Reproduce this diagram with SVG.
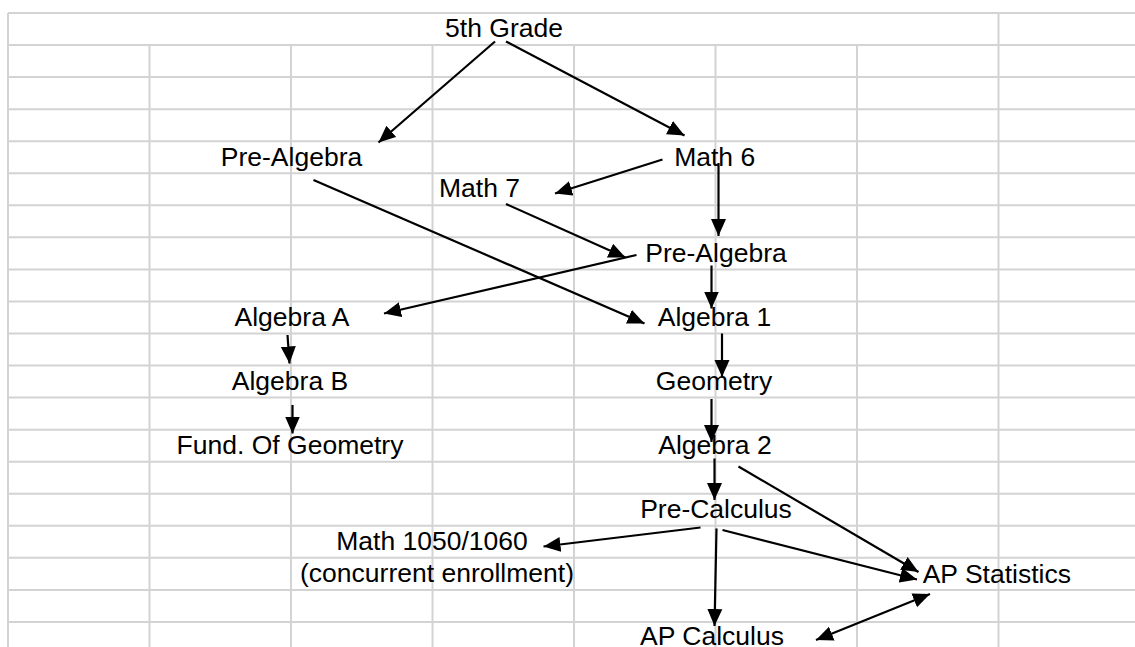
<svg xmlns="http://www.w3.org/2000/svg" width="1135" height="647" viewBox="0 0 1135 647">
<style>
.grid{stroke:#d3d3d3;stroke-width:2;fill:none}
.lbl{font-family:"Liberation Sans",Arial,sans-serif;font-size:26.5px;fill:#000;text-anchor:middle}
.c{stroke:#000;stroke-width:2.2;fill:none;marker-end:url(#ah)}
</style>
<defs>
<marker id="ah" markerUnits="userSpaceOnUse" markerWidth="18" markerHeight="16" refX="17" refY="7.5" orient="auto-start-reverse" viewBox="0 0 18 15">
<path d="M0,0 L17,7.5 L0,15 Z" fill="#000"/>
</marker>
</defs>
<rect width="1135" height="647" fill="#fff"/>
<g id="grid" class="grid">
<path d="M8,13H1135M8,45.05H1135M8,77.1H1135M8,109.15H1135M8,141.2H1135M8,173.25H1135M8,205.3H1135M8,237.35H1135M8,269.4H1135M8,301.45H1135M8,333.5H1135M8,365.55H1135M8,397.6H1135M8,429.65H1135M8,461.7H1135M8,493.75H1135M8,525.8H1135M8,557.85H1135M8,589.9H1135M8,621.95H1135"/>
<path d="M8,13V647M998.5,13V647M149.5,45V647M291,45V647M432.5,45V647M574,45V647M715.5,45V647M857,45V647"/>
</g>
<g id="connectors">
<line class="c" x1="495" y1="41.5" x2="378.5" y2="142.5"/>
<line class="c" x1="506" y1="41.5" x2="684.5" y2="135.5"/>
<line class="c" x1="662.5" y1="159.5" x2="555" y2="193.5"/>
<line class="c" x1="718.5" y1="163" x2="718.5" y2="236"/>
<line class="c" x1="506" y1="204" x2="625.5" y2="257.5"/>
<line class="c" x1="636.5" y1="255" x2="384" y2="313.5"/>
<line class="c" x1="313.5" y1="180" x2="644.5" y2="323.5"/>
<line class="c" x1="711.5" y1="265.5" x2="711.5" y2="308.5"/>
<line class="c" x1="722" y1="333.5" x2="722" y2="377"/>
<line class="c" x1="711.5" y1="399" x2="711.5" y2="442"/>
<line class="c" x1="287.5" y1="335" x2="289.5" y2="363.5"/>
<line class="c" x1="292.5" y1="405" x2="292.5" y2="433.5"/>
<line class="c" x1="714.5" y1="458.5" x2="714.5" y2="500"/>
<line class="c" x1="738.5" y1="466.5" x2="918.5" y2="572"/>
<line class="c" x1="700.5" y1="527.5" x2="543.5" y2="546.5"/>
<line class="c" x1="716.5" y1="528.5" x2="714.5" y2="626"/>
<line class="c" x1="722.5" y1="530" x2="917" y2="579.5"/>
<line class="c" x1="816" y1="640" x2="930" y2="594" style="marker-start:url(#ah)"/>
</g>
<g id="n-5th-grade"><text class="lbl" x="504" y="36.7">5th Grade</text></g>
<g id="n-pre-algebra-l"><text class="lbl" x="291.5" y="165.7">Pre-Algebra</text></g>
<g id="n-math6"><text class="lbl" x="714.7" y="165.7">Math 6</text></g>
<g id="n-math7"><text class="lbl" x="479.5" y="196.7">Math 7</text></g>
<g id="n-pre-algebra-r"><text class="lbl" x="716" y="261.7">Pre-Algebra</text></g>
<g id="n-algebra-a"><text class="lbl" x="292" y="326">Algebra A</text></g>
<g id="n-algebra-1"><text class="lbl" x="714.5" y="326">Algebra 1</text></g>
<g id="n-algebra-b"><text class="lbl" x="290" y="390">Algebra B</text></g>
<g id="n-geometry"><text class="lbl" x="714" y="390">Geometry</text></g>
<g id="n-fund-geometry"><text class="lbl" x="290" y="454">Fund. Of Geometry</text></g>
<g id="n-algebra-2"><text class="lbl" x="715" y="454">Algebra 2</text></g>
<g id="n-pre-calculus"><text class="lbl" x="716" y="518.3">Pre-Calculus</text></g>
<g id="n-math1050"><text class="lbl" x="432" y="550">Math 1050/1060</text><text class="lbl" x="437" y="581.7">(concurrent enrollment)</text></g>
<g id="n-ap-statistics"><text class="lbl" x="922.7" y="582.7" style="text-anchor:start">AP Statistics</text></g>
<g id="n-ap-calculus"><text class="lbl" x="712" y="645">AP Calculus</text></g>
</svg>
